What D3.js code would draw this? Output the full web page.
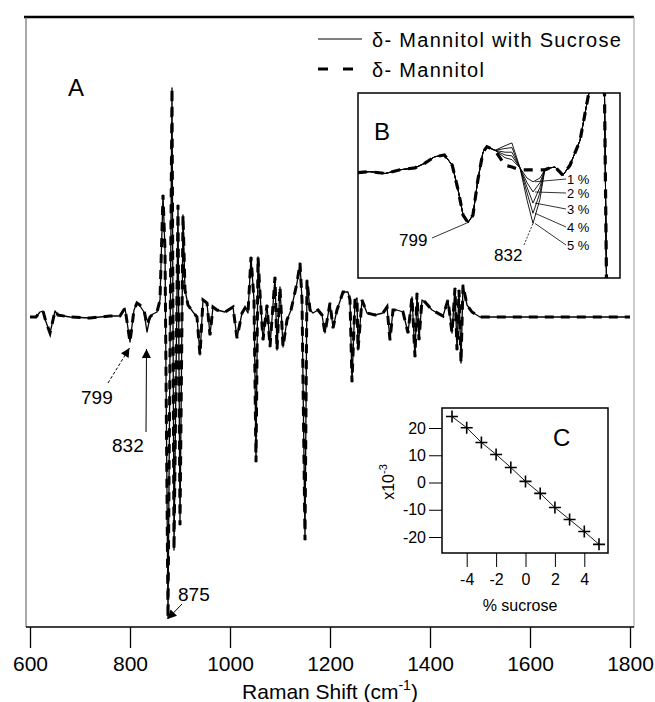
<!DOCTYPE html>
<html lang="en">
<head>
<meta charset="UTF-8">
<title>Second derivative Raman spectra</title>
<script src="https://d3js.org/d3.v7.min.js"></script>
<style>
  body{ margin:0; background:#fff; font-family:"Liberation Sans", Arial, sans-serif; }
  svg text{ fill:#000; }
</style>
</head>
<body>
<svg width="655" height="702"></svg>
<script>
// ---- main spectrum (A), second derivative, arbitrary units
const shift = [600,612,620,626,632,640,646,650,656,680,720,760,780,790,800,808,814,820,828,834,840,846,854,860,866,870,876,884,888,896,900,906,910,916,926,934,940,946,954,960,966,974,990,1006,1014,1024,1030,1036,1042,1048,1052,1056,1060,1066,1074,1080,1090,1094,1100,1106,1114,1122,1134,1140,1144,1150,1154,1160,1166,1176,1184,1190,1200,1206,1214,1226,1236,1240,1244,1250,1254,1256,1264,1274,1290,1306,1314,1320,1326,1334,1346,1356,1364,1370,1374,1378,1384,1390,1404,1426,1436,1444,1450,1454,1458,1462,1466,1474,1484,1500,1800];
const withSucrose = [0,0,0.05,0.06,-0.05,-0.16,-0.03,0.06,0.02,0,-0.01,0.01,0.01,0.09,-0.25,0.07,0.14,0.11,0.05,-0.15,0,0.03,0.05,0.17,1.22,0.67,-3.01,2.29,-2.33,1.12,-2.08,1.02,0.27,0.12,0.05,0,-0.38,0.17,0.14,-0.18,0.10,0.07,0.05,0.10,-0.21,0.04,0.09,0.04,0.60,0.17,-1.45,0.60,0.24,-0.23,0.12,-0.30,0.40,-0.33,0.30,-0.30,-0.03,0.07,0.34,0.54,0.17,-2.23,0.37,0.07,0.04,0.07,0.02,-0.16,0.14,-0.11,0.07,0.25,0.25,0.17,-0.65,0.17,0.19,-0.33,0.17,0.04,0.02,0.04,0.10,-0.23,0.07,0.07,0.05,-0.16,0.20,-0.40,0.24,-0.23,0.17,0.15,0.07,0.01,0.17,-0.16,0.29,-0.33,0.27,-0.46,0.32,0.12,0.05,0,0];
const mannitol = [0,0,0.05,0.06,-0.05,-0.16,-0.03,0.06,0.02,0,-0.01,0.01,0.01,0.09,-0.25,0.07,0.14,0.12,0.07,-0.08,0,0.03,0.05,0.17,1.22,0.67,-3.01,2.29,-2.33,1.12,-2.08,1.02,0.27,0.12,0.05,0,-0.38,0.17,0.14,-0.18,0.10,0.07,0.05,0.10,-0.21,0.04,0.09,0.04,0.60,0.17,-1.45,0.60,0.24,-0.23,0.12,-0.30,0.40,-0.33,0.30,-0.30,-0.03,0.07,0.34,0.54,0.17,-2.23,0.37,0.07,0.04,0.07,0.02,-0.16,0.14,-0.11,0.07,0.25,0.25,0.17,-0.65,0.17,0.19,-0.33,0.17,0.04,0.02,0.04,0.10,-0.23,0.07,0.07,0.05,-0.16,0.20,-0.40,0.24,-0.23,0.17,0.15,0.07,0.01,0.17,-0.16,0.29,-0.33,0.27,-0.46,0.32,0.12,0.05,0,0];
const xTicks = [600,800,1000,1200,1400,1600,1800];

// ---- inset B: 760-870 cm-1 region, sucrose 1..5 %
const insetShift = [743,749,757,764.5,772,777,782,787,791,794,796.5,799,801.5,804,806.6,808.6,812.7,817.8,821.3,825.4,829,832,835.5,838,840.6,843.2,847.2,850.8,855.9,859.9,864,868,869.6,871];
const insetMannitol = [0.14,0.15,0.13,0.17,0.19,0.24,0.31,0.33,0.22,-0.05,-0.32,-0.40,-0.32,0.06,0.36,0.42,0.38,0.22,0.20,0.17,0.17,0.17,0.17,0.17,0.19,0.20,0.11,0.22,0.49,0.95,1.36,1.6,-1.6,-1.6];
const insetSucrose = [
  [0.14,0.15,0.13,0.17,0.19,0.24,0.31,0.33,0.22,-0.05,-0.32,-0.40,-0.32,0.06,0.36,0.42,0.38,0.30,0.28,0.19,0.08,0.04,0.08,0.17,0.19,0.20,0.11,0.22,0.49,0.95,1.36,1.6,-1.6,-1.6],
  [0.14,0.15,0.13,0.17,0.19,0.24,0.31,0.33,0.22,-0.05,-0.32,-0.40,-0.32,0.06,0.36,0.42,0.38,0.33,0.32,0.19,0.03,-0.07,0.03,0.17,0.19,0.20,0.11,0.22,0.49,0.95,1.36,1.6,-1.6,-1.6],
  [0.14,0.15,0.13,0.17,0.19,0.24,0.31,0.33,0.22,-0.05,-0.32,-0.40,-0.32,0.06,0.36,0.42,0.38,0.36,0.36,0.19,-0.02,-0.19,-0.02,0.17,0.19,0.20,0.11,0.22,0.49,0.95,1.36,1.6,-1.6,-1.6],
  [0.14,0.15,0.13,0.17,0.19,0.24,0.31,0.33,0.22,-0.05,-0.32,-0.40,-0.32,0.06,0.36,0.42,0.38,0.40,0.41,0.19,-0.08,-0.30,-0.08,0.17,0.19,0.20,0.11,0.22,0.49,0.95,1.36,1.6,-1.6,-1.6],
  [0.14,0.15,0.13,0.17,0.19,0.24,0.31,0.33,0.22,-0.05,-0.32,-0.40,-0.32,0.06,0.36,0.42,0.38,0.43,0.46,0.19,-0.16,-0.41,-0.15,0.17,0.19,0.20,0.11,0.22,0.49,0.95,1.36,1.6,-1.6,-1.6]
];
const pctLabels = ["1 %","2 %","3 %","4 %","5 %"];

// ---- inset C: intensity change vs % sucrose (x10^-3)
const sucrosePct = [-5,-4,-3,-2,-1,0,1,2,3,4,5];
const deltaC = [24.2,20.1,14.7,10.3,5.5,0.4,-4.0,-9.2,-13.6,-18.0,-22.7];
const cXTicks = [-4,-2,0,2,4];
const cYTicks = [20,10,0,-10,-20];

const svg = d3.select("svg");
const font = '"Liberation Sans", Arial, sans-serif';
const plain = d => String(d);   // hyphen minus like the original

// arrow marker
svg.append("defs").append("marker")
  .attr("id","arr").attr("viewBox","0 0 10 10").attr("refX",10).attr("refY",5)
  .attr("markerWidth",11).attr("markerHeight",9).attr("markerUnits","userSpaceOnUse")
  .attr("orient","auto")
  .append("path").attr("d","M0,0L10,5L0,10z").attr("fill","#000");
svg.select("defs").append("clipPath").attr("id","clipB")
  .append("rect").attr("x",358).attr("y",93).attr("width",262).attr("height",185);

// ---------------- panel A
const x = d3.scaleLinear().domain([600,1800]).range([30,630]);
const y = d3.scaleLinear().domain([-3.1,2.99]).range([627,18]);

// frame
svg.append("line").attr("x1",24).attr("x2",634).attr("y1",17).attr("y2",17)
  .attr("stroke","#000").attr("stroke-width",2.5);
svg.append("line").attr("x1",26).attr("x2",26).attr("y1",17).attr("y2",627)
  .attr("stroke","#555").attr("stroke-width",1);
svg.append("line").attr("x1",634).attr("x2",634).attr("y1",17).attr("y2",627)
  .attr("stroke","#999").attr("stroke-width",1);
svg.append("line").attr("x1",26).attr("x2",634).attr("y1",627).attr("y2",627)
  .attr("stroke","#000").attr("stroke-width",1.5);

const xAxis = svg.append("g").attr("transform","translate(0,627)")
  .call(d3.axisBottom(x).tickValues(xTicks).tickSize(21).tickPadding(8).tickFormat(plain));
xAxis.select(".domain").remove();
xAxis.selectAll("line").attr("stroke","#000").attr("stroke-width",1.3);
xAxis.selectAll("text").attr("font-family",font).attr("font-size",21).attr("fill","#000");

const axTitle = svg.append("text").attr("x",330).attr("y",699).attr("text-anchor","middle")
  .attr("font-family",font).attr("font-size",21);
axTitle.append("tspan").text("Raman Shift (cm");
axTitle.append("tspan").attr("dy",-9).attr("font-size",14).text("-1");
axTitle.append("tspan").attr("dy",9).text(")");

const line = d3.line().x(d => x(d[0])).y(d => y(d[1]));
const solidPts = shift.map((s,i) => [s, withSucrose[i]]);
const dashPts = shift.map((s,i) => [s, mannitol[i]]);

svg.append("path").attr("d",line(dashPts)).attr("fill","none")
  .attr("stroke","#000").attr("stroke-width",3).attr("stroke-dasharray","9,7");
svg.append("path").attr("d",line(solidPts)).attr("fill","none")
  .attr("stroke","#000").attr("stroke-width",1.3).attr("stroke-linejoin","round");

svg.append("text").attr("x",68).attr("y",96).attr("font-family",font).attr("font-size",24).text("A");

// legend
svg.append("line").attr("x1",318).attr("x2",362).attr("y1",39).attr("y2",39)
  .attr("stroke","#000").attr("stroke-width",1.2);
svg.append("line").attr("x1",318).attr("x2",356).attr("y1",69).attr("y2",69)
  .attr("stroke","#000").attr("stroke-width",3).attr("stroke-dasharray","10,15");
svg.append("text").attr("x",372).attr("y",47).attr("font-family",font).attr("font-size",20)
  .attr("letter-spacing",1.3).text("δ- Mannitol with Sucrose");
svg.append("text").attr("x",372).attr("y",77).attr("font-family",font).attr("font-size",20)
  .attr("letter-spacing",1.3).text("δ- Mannitol");

// annotations in A
function note(label, tx, ty, x1, y1, wn, val, dash){
  svg.append("text").attr("x",tx).attr("y",ty).attr("font-family",font).attr("font-size",19).text(label);
  svg.append("line").attr("x1",x1).attr("y1",y1).attr("x2",x(wn)).attr("y2",y(val))
    .attr("stroke","#000").attr("stroke-width",1).attr("stroke-dasharray",dash)
    .attr("marker-end","url(#arr)");
}
note("799", 81, 404, 108, 383, 799, -0.31, "3,2");
note("832", 112, 452, 146, 432, 833, -0.32, null);
note("875", 178, 601, 182, 604, 875, -3.02, null);

// ---------------- inset B
const xb = d3.scaleLinear().domain([799,832]).range([468,533]);
const yb = d3.scaleLinear().domain([-1,1]).range([278,93]);
const lineB = d3.line().x((d,i) => xb(insetShift[i])).y(d => yb(d));
const gB = svg.append("g");
gB.append("rect").attr("x",358).attr("y",93).attr("width",262).attr("height",185)
  .attr("fill","#fff").attr("stroke","#000").attr("stroke-width",1.5);
const gBc = gB.append("g").attr("clip-path","url(#clipB)");
gBc.append("path").attr("d",lineB(insetMannitol)).attr("fill","none")
  .attr("stroke","#000").attr("stroke-width",3.2).attr("stroke-dasharray","9,8");
insetSucrose.forEach(s => {
  gBc.append("path").attr("d",lineB(s)).attr("fill","none")
    .attr("stroke","#000").attr("stroke-width",0.9);
});
gB.append("text").attr("x",374).attr("y",140).attr("font-family",font).attr("font-size",24).text("B");
// 799 / 832 labels
gB.append("text").attr("x",399).attr("y",246).attr("font-family",font).attr("font-size",17).text("799");
gB.append("line").attr("x1",432).attr("y1",238).attr("x2",xb(799)).attr("y2",yb(-0.40))
  .attr("stroke","#000").attr("stroke-width",0.8);
gB.append("text").attr("x",494).attr("y",261).attr("font-family",font).attr("font-size",17).text("832");
gB.append("line").attr("x1",524).attr("y1",245).attr("x2",xb(832)).attr("y2",yb(-0.41))
  .attr("stroke","#000").attr("stroke-width",0.8).attr("stroke-dasharray","2,1.5");
// percent labels with leaders
const pctY = [184,198,214,232,250];
pctLabels.forEach((p,i) => {
  const v = insetSucrose[i][21];
  gB.append("line").attr("x1",xb(833)).attr("y1",yb(v)).attr("x2",566).attr("y2",pctY[i]-5)
    .attr("stroke","#000").attr("stroke-width",0.8);
  gB.append("text").attr("x",567).attr("y",pctY[i]).attr("font-family",font).attr("font-size",13).text(p);
});

// ---------------- inset C
const xc = d3.scaleLinear().domain([-5,5]).range([452,599]);
const yc = d3.scaleLinear().domain([-20,20]).range([537,428]);
const gC = svg.append("g");
gC.append("rect").attr("x",442).attr("y",408).attr("width",166).attr("height",145)
  .attr("fill","#fff").attr("stroke","#000").attr("stroke-width",1.5);
const cx = gC.append("g").attr("transform","translate(0,553)")
  .call(d3.axisBottom(xc).tickValues(cXTicks).tickSize(14).tickPadding(7).tickFormat(plain));
cx.select(".domain").remove();
cx.selectAll("text").attr("font-family",font).attr("font-size",16).attr("fill","#000");
const cy = gC.append("g").attr("transform","translate(442,0)")
  .call(d3.axisLeft(yc).tickValues(cYTicks).tickSize(13).tickPadding(3).tickFormat(plain));
cy.select(".domain").remove();
cy.selectAll("text").attr("font-family",font).attr("font-size",16).attr("fill","#000");
gC.append("text").attr("x",520).attr("y",611).attr("text-anchor","middle")
  .attr("font-family",font).attr("font-size",16).text("% sucrose");
const yl = gC.append("text").attr("transform","translate(394,482) rotate(-90)").attr("text-anchor","middle")
  .attr("font-family",font).attr("font-size",16);
yl.append("tspan").text("x10");
yl.append("tspan").attr("dy",-7).attr("font-size",11).text("-3");
gC.append("text").attr("x",553).attr("y",446).attr("font-family",font).attr("font-size",24).text("C");

const lineC = d3.line().x((d,i) => xc(sucrosePct[i])).y(d => yc(d));
gC.append("path").attr("d",lineC(deltaC)).attr("fill","none").attr("stroke","#000").attr("stroke-width",0.9);
gC.selectAll("path.pt").data(deltaC).enter().append("path").attr("class","pt")
  .attr("d",(d,i) => {
    const px = xc(sucrosePct[i]), py = yc(d);
    return `M${px-6},${py}H${px+6}M${px},${py-6}V${py+6}`;
  })
  .attr("stroke","#000").attr("stroke-width",1.6);
</script>
</body>
</html>
